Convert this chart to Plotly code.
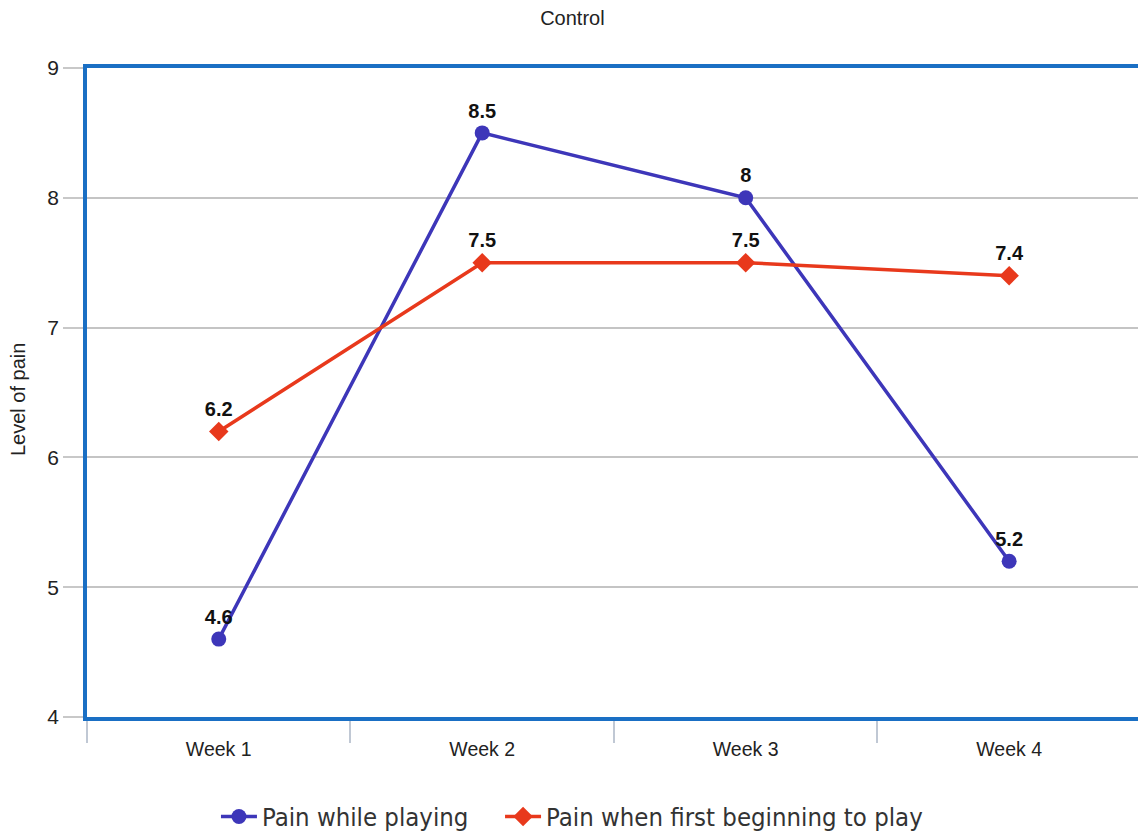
import plotly.graph_objects as go

weeks = ["Week 1", "Week 2", "Week 3", "Week 4"]
pain_playing = [4.6, 8.5, 8, 5.2]
pain_beginning = [6.2, 7.5, 7.5, 7.4]

label_font = dict(family="Liberation Sans", size=20, color="#111111", weight="bold")
legend_font = dict(family="DejaVu Sans Condensed", size=25.5, color="#333333")

fig = go.Figure()
fig.add_trace(go.Scatter(
    x=weeks, y=pain_playing, name="Pain while playing",
    mode="lines+markers+text", text=[str(v) for v in pain_playing],
    textposition="top center", textfont=label_font,
    line=dict(color="#3d36b9", width=3.5),
    marker=dict(symbol="circle", size=15, color="#3d36b9"),
    legend="legend",
))
fig.add_trace(go.Scatter(
    x=weeks, y=pain_beginning, name="Pain when first beginning to play",
    mode="lines+markers+text", text=[str(v) for v in pain_beginning],
    textposition="top center", textfont=label_font,
    line=dict(color="#e8391c", width=3.5),
    marker=dict(symbol="diamond", size=15, color="#e8391c"),
    legend="legend2",
))

fig.update_layout(
    width=1138, height=837,
    margin=dict(l=87, r=0, t=68, b=120, autoexpand=False),
    paper_bgcolor="white", plot_bgcolor="white",
    title=dict(text="Control", x=0.503, xanchor="center", y=0.978, yanchor="middle",
               font=dict(family="Liberation Sans", size=20, color="#222222")),
    font=dict(family="Liberation Sans", color="#222222"),
    showlegend=True,
    legend=dict(orientation="h", x=0.1227, xanchor="left", y=-0.154, yanchor="middle",
                font=legend_font, itemwidth=36),
    legend2=dict(orientation="h", x=0.393, xanchor="left", y=-0.154, yanchor="middle",
                 font=legend_font, itemwidth=36),
    annotations=[dict(text="Level of pain", xref="paper", yref="paper",
                      x=(18 - 87) / 1051, y=(717 - 400) / 649, xanchor="center", yanchor="middle",
                      textangle=-90, showarrow=False,
                      font=dict(family="Liberation Sans", size=20, color="#222222"))],
)
fig.update_xaxes(
    type="category", range=[-0.5, 3.489], automargin=False,
    showgrid=False, showline=True, mirror=True, linecolor="#1a6fc4", linewidth=3.5,
    ticks="outside", tickson="boundaries", ticklen=22, tickcolor="#c0c8d4", tickwidth=1.5,
    ticklabelstandoff=12,
    tickfont=dict(family="Liberation Sans", size=19.5, color="#222222"),
    zeroline=False,
)
fig.update_yaxes(
    range=[4, 9], dtick=1, automargin=False,
    showgrid=True, gridcolor="#c4c4c4", gridwidth=1.5,
    showline=True, mirror=False, linecolor="#1a6fc4", linewidth=3.5,
    ticks="outside", ticklen=20, tickcolor="#c8c8c8", tickwidth=1.5,
    tickfont=dict(family="Liberation Sans", size=21, color="#222222"),
    zeroline=False,
)

fig.write_html("out.html")
